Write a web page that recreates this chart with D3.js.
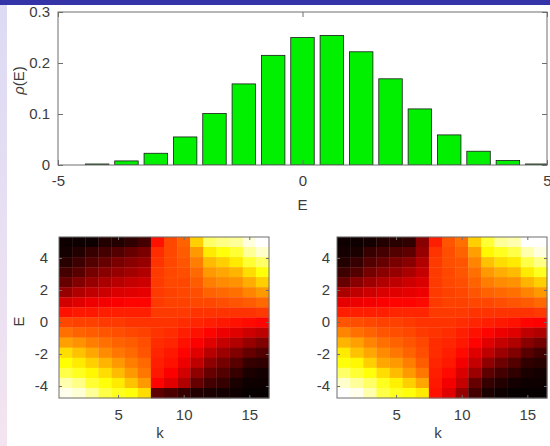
<!DOCTYPE html>
<html>
<head>
<meta charset="utf-8">
<script src="https://cdn.jsdelivr.net/npm/d3@7"></script>
<style>
  body { margin: 0; background: #fff; }
  svg { display: block; font-family: "Liberation Sans", Arial, Helvetica, sans-serif; }
</style>
</head>
<body>
<div id="chart"></div>
<script>
// histogram of rho(E)
const binCenters = [-4.2, -3.6, -3.0, -2.4, -1.8, -1.2, -0.6, 0, 0.6, 1.2, 1.8, 2.4, 3.0, 3.6, 4.2, 4.8];
const rhoValues = [0.002, 0.008, 0.023, 0.055, 0.101, 0.159, 0.215, 0.250, 0.254, 0.222, 0.169, 0.110, 0.059, 0.027, 0.009, 0.002];
const histXTicks = [-5, 0, 5];
const histYTicks = [0, 0.1, 0.2, 0.3];

// heatmaps: rows follow eBins (top to bottom), columns follow kBins
const kBins = [1, 2, 3, 4, 5, 6, 7, 8, 9, 10, 11, 12, 13, 14, 15, 16];
const eBins = [5.00, 4.37, 3.74, 3.11, 2.49, 1.86, 1.23, 0.60, -0.03, -0.66, -1.29, -1.92, -2.55, -3.18, -3.81, -4.44];
const kTicks = [5, 10, 15];
const eTicks = [-4, -2, 0, 2, 4];

const leftMap = [
  [0.02,0.02,0.02,0.05,0.05,0.07,0.10, 0.40,0.48,0.52,0.68,0.85,0.88,0.90,0.97,1.00],
  [0.03,0.05,0.08,0.10,0.12,0.15,0.18, 0.44,0.48,0.51,0.60,0.72,0.76,0.80,0.90,0.95],
  [0.06,0.09,0.12,0.15,0.18,0.20,0.22, 0.45,0.48,0.50,0.56,0.65,0.68,0.72,0.80,0.85],
  [0.10,0.13,0.17,0.20,0.22,0.24,0.26, 0.46,0.48,0.49,0.53,0.60,0.62,0.64,0.70,0.76],
  [0.15,0.19,0.22,0.25,0.27,0.29,0.30, 0.46,0.48,0.48,0.51,0.56,0.58,0.59,0.63,0.68],
  [0.22,0.26,0.28,0.30,0.32,0.33,0.34, 0.46,0.47,0.48,0.49,0.52,0.53,0.54,0.57,0.60],
  [0.31,0.33,0.35,0.36,0.37,0.38,0.38, 0.46,0.47,0.47,0.48,0.48,0.49,0.50,0.51,0.53],
  [0.40,0.41,0.41,0.42,0.42,0.42,0.42, 0.46,0.46,0.46,0.45,0.45,0.45,0.45,0.45,0.46],
  [0.48,0.47,0.47,0.46,0.46,0.45,0.45, 0.45,0.45,0.44,0.43,0.42,0.41,0.40,0.39,0.38],
  [0.54,0.52,0.51,0.50,0.49,0.48,0.47, 0.45,0.44,0.42,0.40,0.38,0.35,0.33,0.30,0.28],
  [0.61,0.59,0.56,0.54,0.52,0.51,0.49, 0.44,0.43,0.40,0.37,0.33,0.29,0.26,0.22,0.19],
  [0.70,0.66,0.62,0.58,0.55,0.53,0.50, 0.43,0.41,0.38,0.33,0.27,0.23,0.19,0.15,0.12],
  [0.75,0.72,0.68,0.64,0.60,0.56,0.53, 0.42,0.40,0.35,0.28,0.21,0.17,0.13,0.08,0.07],
  [0.82,0.78,0.74,0.70,0.65,0.60,0.55, 0.41,0.37,0.31,0.21,0.15,0.12,0.08,0.04,0.03],
  [0.92,0.88,0.80,0.76,0.72,0.66,0.60, 0.38,0.33,0.26,0.15,0.10,0.08,0.04,0.02,0.02],
  [0.98,0.96,0.90,0.82,0.78,0.76,0.70, 0.14,0.11,0.08,0.05,0.04,0.03,0.02,0.01,0.01]
];

const rightMap = [
  [0.02,0.02,0.03,0.05,0.06,0.07,0.20, 0.42,0.50,0.54,0.68,0.80,0.90,0.92,1.00,1.00],
  [0.03,0.04,0.08,0.10,0.12,0.14,0.22, 0.45,0.49,0.52,0.61,0.74,0.78,0.82,0.92,0.97],
  [0.05,0.08,0.12,0.15,0.18,0.20,0.26, 0.46,0.49,0.50,0.57,0.66,0.70,0.72,0.82,0.88],
  [0.09,0.12,0.17,0.20,0.22,0.25,0.29, 0.46,0.48,0.50,0.54,0.60,0.63,0.65,0.72,0.78],
  [0.15,0.20,0.23,0.26,0.28,0.30,0.32, 0.46,0.48,0.49,0.52,0.56,0.58,0.59,0.64,0.68],
  [0.25,0.28,0.30,0.32,0.33,0.34,0.35, 0.46,0.47,0.48,0.50,0.52,0.53,0.54,0.57,0.60],
  [0.34,0.35,0.36,0.37,0.38,0.38,0.39, 0.46,0.47,0.47,0.48,0.48,0.49,0.50,0.51,0.53],
  [0.42,0.42,0.42,0.42,0.43,0.43,0.43, 0.46,0.46,0.46,0.45,0.45,0.45,0.45,0.45,0.46],
  [0.50,0.49,0.48,0.47,0.47,0.46,0.45, 0.45,0.45,0.44,0.43,0.42,0.41,0.40,0.38,0.37],
  [0.57,0.54,0.52,0.50,0.49,0.48,0.46, 0.45,0.44,0.42,0.40,0.38,0.35,0.33,0.28,0.26],
  [0.64,0.61,0.57,0.54,0.52,0.50,0.48, 0.44,0.43,0.41,0.38,0.33,0.29,0.26,0.20,0.17],
  [0.72,0.66,0.62,0.58,0.55,0.52,0.49, 0.44,0.42,0.39,0.33,0.28,0.23,0.19,0.13,0.10],
  [0.76,0.74,0.68,0.62,0.60,0.56,0.51, 0.43,0.41,0.36,0.29,0.21,0.16,0.12,0.07,0.06],
  [0.85,0.80,0.76,0.70,0.65,0.60,0.55, 0.42,0.39,0.32,0.23,0.14,0.10,0.07,0.04,0.03],
  [0.95,0.90,0.85,0.78,0.73,0.68,0.62, 0.41,0.36,0.29,0.15,0.08,0.05,0.03,0.02,0.02],
  [1.00,0.98,0.92,0.82,0.78,0.76,0.72, 0.40,0.33,0.22,0.10,0.04,0.02,0.01,0.01,0.01]
];

const W = 550, H = 446;
const textColor = "#3c3c3c";
const boxColor = "#6e6e6e";

// matlab "hot" colormap
function hot(v) {
  const r = Math.min(1, Math.max(0, v / 0.375));
  const g = Math.min(1, Math.max(0, (v - 0.375) / 0.375));
  const b = Math.min(1, Math.max(0, (v - 0.75) / 0.25));
  return d3.rgb(r * 255, g * 255, b * 255).toString();
}

// plain hyphen minus like the original figure
const plainNum = d => String(d);

const svg = d3.select("#chart").append("svg")
  .attr("width", W)
  .attr("height", H);

// slide decoration
const defs = svg.append("defs");
const grad = defs.append("linearGradient")
  .attr("id", "sideGrad")
  .attr("x1", 0).attr("y1", 0).attr("x2", 0).attr("y2", 1);
grad.append("stop").attr("offset", "0%").attr("stop-color", "#dcdaf4");
grad.append("stop").attr("offset", "100%").attr("stop-color", "#f3e4f0");

svg.append("rect").attr("x", 0).attr("y", 0).attr("width", 7).attr("height", H).attr("fill", "url(#sideGrad)");
svg.append("rect").attr("x", 0).attr("y", 0).attr("width", W).attr("height", 5).attr("fill", "#3434a8");

// ---------- histogram ----------
const hx = d3.scaleLinear().domain([-5, 5]).range([58, 547]);
const hy = d3.scaleLinear().domain([0, 0.3]).range([165, 12]);
const binWidth = 0.6 * 0.8;

defs.append("clipPath").attr("id", "histClip")
  .append("rect")
  .attr("x", hx(-5)).attr("y", hy(0.3))
  .attr("width", hx(5) - hx(-5)).attr("height", hy(0) - hy(0.3));

const hist = svg.append("g");

hist.append("g")
  .attr("clip-path", "url(#histClip)")
  .selectAll("rect")
  .data(binCenters)
  .enter()
  .append("rect")
  .attr("x", d => hx(d - binWidth / 2))
  .attr("width", d => hx(d + binWidth / 2) - hx(d - binWidth / 2))
  .attr("y", (d, i) => hy(rhoValues[i]))
  .attr("height", (d, i) => hy(0) - hy(rhoValues[i]))
  .attr("fill", "#00f000")
  .attr("stroke", "#1a1a1a")
  .attr("stroke-width", 0.8);

function styleAxis(g) {
  g.select(".domain").remove();
  g.selectAll("line").attr("stroke", boxColor);
  g.selectAll("text")
    .attr("fill", textColor)
    .style("font-size", "15px");
}

hist.append("g")
  .attr("transform", `translate(0,${hy(0)})`)
  .call(d3.axisBottom(hx).tickValues(histXTicks).tickSize(-5).tickPadding(10).tickFormat(plainNum))
  .call(styleAxis);
hist.append("g")
  .attr("transform", `translate(0,${hy(0.3)})`)
  .call(d3.axisTop(hx).tickValues(histXTicks).tickSize(-5).tickFormat(""))
  .call(styleAxis);
hist.append("g")
  .attr("transform", `translate(${hx(-5)},0)`)
  .call(d3.axisLeft(hy).tickValues(histYTicks).tickSize(-5).tickPadding(8).tickFormat(d => d === 0 ? "0" : d3.format(".1f")(d)))
  .call(styleAxis);
hist.append("g")
  .attr("transform", `translate(${hx(5)},0)`)
  .call(d3.axisRight(hy).tickValues(histYTicks).tickSize(-5).tickFormat(""))
  .call(styleAxis);

hist.append("rect")
  .attr("x", hx(-5)).attr("y", hy(0.3))
  .attr("width", hx(5) - hx(-5)).attr("height", hy(0) - hy(0.3))
  .attr("fill", "none")
  .attr("stroke", boxColor)
  .attr("stroke-width", 1);

hist.append("text")
  .attr("x", hx(0))
  .attr("y", 210)
  .attr("text-anchor", "middle")
  .attr("fill", textColor)
  .style("font-size", "15px")
  .text("E");

const rhoLabel = hist.append("text")
  .attr("transform", `translate(24,${(hy(0) + hy(0.3)) / 2 - 8}) rotate(-90)`)
  .attr("text-anchor", "middle")
  .attr("fill", textColor)
  .style("font-size", "15px");
rhoLabel.append("tspan").style("font-style", "italic").text("ρ");
rhoLabel.append("tspan").text("(E)");

// ---------- heatmaps ----------
function drawHeatmap(matrix, left, showELabel) {
  const kx = d3.scaleLinear().domain([0.5, 16.5]).range([left, left + 210]);
  const ey = d3.scaleLinear().domain([-4.75, 5.31]).range([398, 237]);
  const eStep = Math.abs(eBins[0] - eBins[1]);

  const g = svg.append("g");

  const cells = [];
  matrix.forEach((row, i) => row.forEach((v, j) => cells.push({ k: kBins[j], e: eBins[i], v })));

  g.selectAll("rect.cell")
    .data(cells)
    .enter()
    .append("rect")
    .attr("class", "cell")
    .attr("x", d => kx(d.k - 0.5))
    .attr("width", d => kx(d.k + 0.5) - kx(d.k - 0.5) + 0.3)
    .attr("y", d => ey(d.e + eStep / 2))
    .attr("height", d => ey(d.e - eStep / 2) - ey(d.e + eStep / 2) + 0.3)
    .attr("fill", d => hot(d.v));

  g.append("g")
    .attr("transform", `translate(0,${ey.range()[0]})`)
    .call(d3.axisBottom(kx).tickValues(kTicks).tickSize(-3).tickPadding(11).tickFormat(plainNum))
    .call(styleAxis);
  g.append("g")
    .attr("transform", `translate(0,${ey.range()[1]})`)
    .call(d3.axisTop(kx).tickValues(kTicks).tickSize(-3).tickFormat(""))
    .call(styleAxis);
  g.append("g")
    .attr("transform", `translate(${kx.range()[0]},0)`)
    .call(d3.axisLeft(ey).tickValues(eTicks).tickSize(-3).tickPadding(showELabel ? 11 : 7).tickFormat(plainNum))
    .call(styleAxis);
  g.append("g")
    .attr("transform", `translate(${kx.range()[1]},0)`)
    .call(d3.axisRight(ey).tickValues(eTicks).tickSize(-3).tickFormat(""))
    .call(styleAxis);

  g.append("rect")
    .attr("x", kx.range()[0]).attr("y", ey.range()[1])
    .attr("width", kx.range()[1] - kx.range()[0])
    .attr("height", ey.range()[0] - ey.range()[1])
    .attr("fill", "none")
    .attr("stroke", boxColor)
    .attr("stroke-width", 1);

  g.append("text")
    .attr("x", (kx.range()[0] + kx.range()[1]) / 2 - 4)
    .attr("y", 438)
    .attr("text-anchor", "middle")
    .attr("fill", textColor)
    .style("font-size", "15px")
    .text("k");

  if (showELabel) {
    g.append("text")
      .attr("transform", `translate(24,${(ey.range()[0] + ey.range()[1]) / 2 + 4}) rotate(-90)`)
      .attr("text-anchor", "middle")
      .attr("fill", textColor)
      .style("font-size", "15px")
      .text("E");
  }
}

drawHeatmap(leftMap, 59, true);
drawHeatmap(rightMap, 337, false);
</script>
</body>
</html>
